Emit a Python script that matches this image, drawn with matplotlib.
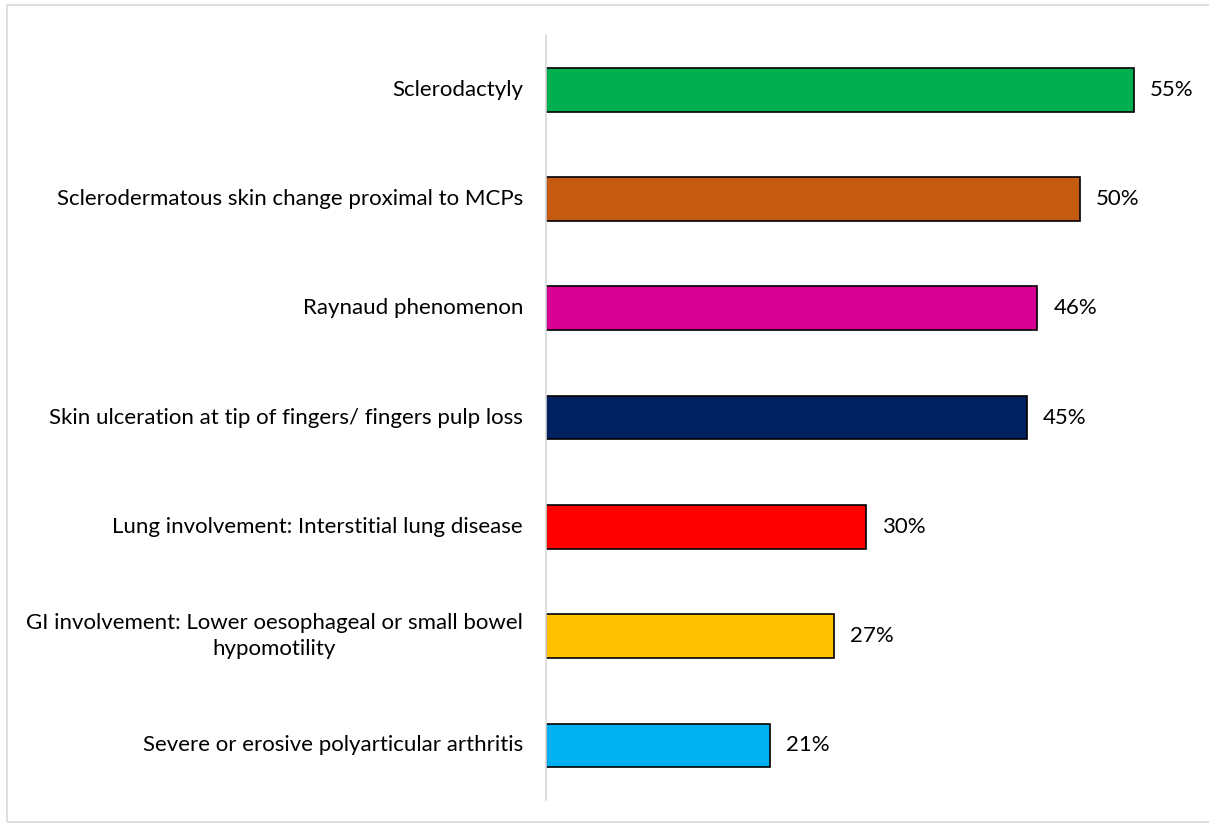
import matplotlib.pyplot as plt
from matplotlib.patches import Rectangle
from matplotlib.transforms import blended_transform_factory, offset_copy

# Data
categories = [
    "Sclerodactyly",
    "Sclerodermatous skin change proximal to MCPs",
    "Raynaud phenomenon",
    "Skin ulceration at tip of fingers/ fingers pulp loss",
    "Lung involvement: Interstitial lung disease",
    "GI involvement: Lower oesophageal or small bowel\nhypomotility",
    "Severe or erosive polyarticular arthritis",
]
values = [55, 50, 46, 45, 30, 27, 21]
colors = ["#00B050", "#C55A11", "#D60093", "#002060", "#FF0000", "#FFC000", "#00B0F0"]

plt.rcParams['font.family'] = ['Lato', 'DejaVu Sans']

fig = plt.figure(figsize=(12.09, 8.24), dpi=100)
ax = fig.add_axes([546 / 1209, 24 / 824, 1 - 546 / 1209 - 0.005, (800 - 35) / 824])

ypos = list(range(len(values)))
ax.barh(ypos, values, height=0.4, color=colors, edgecolor='black', linewidth=1.2)
for y, v in zip(ypos, values):
    ax.text(v + 1.5, y, f"{v}%", va='center', ha='left', fontsize=16)

# category labels, right aligned next to the axis, multi-line centred
trans = offset_copy(blended_transform_factory(ax.transAxes, ax.transData),
                    fig=fig, x=-23, y=0, units='dots')
for y, c in zip(ypos, categories):
    ax.text(0, y, c, transform=trans, ha='right', va='center',
            multialignment='center', fontsize=16, linespacing=1.4)

ax.set_ylim(len(values) - 0.5, -0.5)
ax.set_xlim(0, 61.5)
ax.set_xticks([])
ax.set_yticks([])
for side in ['top', 'right', 'bottom']:
    ax.spines[side].set_visible(False)
ax.spines['left'].set_color('#D9D9D9')
ax.spines['left'].set_linewidth(1.2)

# outer chart border
fig.patches.append(Rectangle((7 / 1209, 0.002), 1.2, 1 - 5 / 824 - 0.002,
                             transform=fig.transFigure, fill=False,
                             edgecolor='#D9D9D9', linewidth=1.2))

fig.savefig("out.png", dpi=100)
